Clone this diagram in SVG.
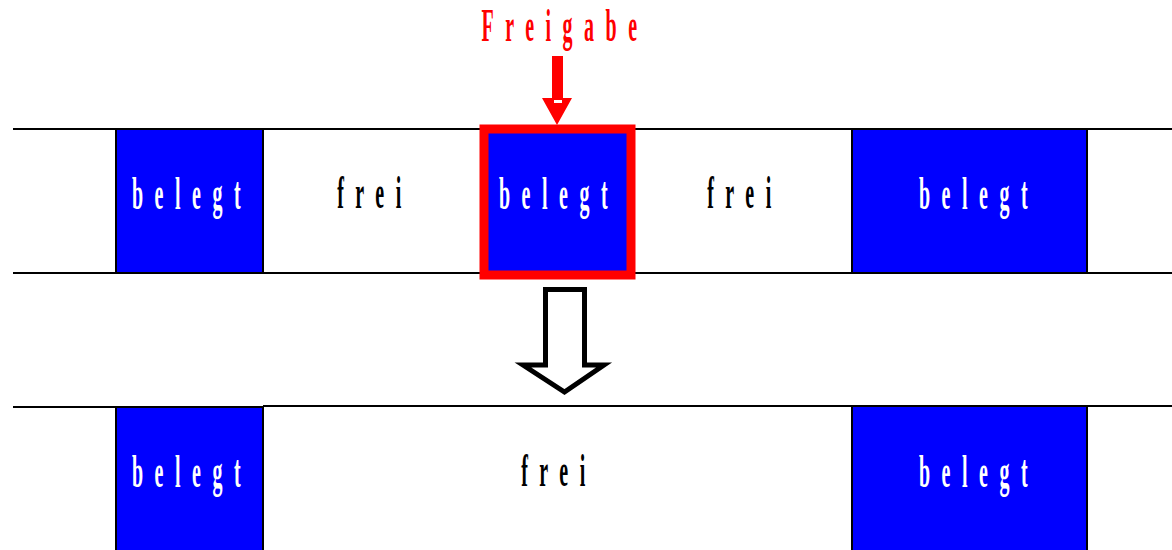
<svg xmlns="http://www.w3.org/2000/svg" width="1172" height="550" viewBox="0 0 1172 550">
  <style>
    .rule { stroke: #000; stroke-width: 2; fill: none; }
    .used { fill: #0000ff; stroke: #000; stroke-width: 2; }
    .lbl { font-family: "Liberation Serif", "Times New Roman", serif; font-size: 20px; font-weight: bold; letter-spacing: 11.5px; text-anchor: middle; }
    .w { fill: #fff; }
    .k { fill: #000; }
    .r { fill: #ff0000; }
  </style>
  <rect width="1172" height="550" fill="#fff"/>

  <!-- upper memory band -->
  <g id="band-top">
    <line class="rule" x1="13" y1="129" x2="1172" y2="129"/>
    <line class="rule" x1="13" y1="273" x2="1172" y2="273"/>
  </g>
  <g id="top-used-1">
    <rect class="used" x="116" y="129" width="147" height="144"/>
    <text class="lbl w" transform="translate(192,209) scale(1,2.35)">belegt</text>
  </g>
  <g id="top-free-1">
    <text class="lbl k" transform="translate(375,208) scale(1,2.35)">frei</text>
  </g>
  <g id="top-used-2">
    <rect x="484" y="129" width="147" height="146" fill="#0000ff" stroke="#ff0000" stroke-width="9"/>
    <text class="lbl w" transform="translate(559,209) scale(1,2.35)">belegt</text>
  </g>
  <g id="top-free-2">
    <text class="lbl k" transform="translate(745,208) scale(1,2.35)">frei</text>
  </g>
  <g id="top-used-3">
    <rect class="used" x="852" y="129" width="235" height="144"/>
    <text class="lbl w" transform="translate(979,209) scale(1,2.35)">belegt</text>
  </g>

  <!-- release marker -->
  <g id="release">
    <text class="lbl r" letter-spacing="12.5" transform="translate(565,41) scale(1,2.3)">Freigabe</text>
  </g>

  <!-- lower memory band -->
  <g id="band-bottom">
    <line class="rule" x1="13" y1="407" x2="116" y2="407"/>
    <line class="rule" x1="263" y1="406" x2="1172" y2="406"/>
  </g>
  <g id="bottom-used-1">
    <rect class="used" x="116" y="407" width="147" height="146"/>
    <text class="lbl w" transform="translate(192,487) scale(1,2.35)">belegt</text>
  </g>
  <g id="bottom-free">
    <text class="lbl k" transform="translate(559,486) scale(1,2.35)">frei</text>
  </g>
  <g id="bottom-used-2">
    <rect class="used" x="852" y="406" width="235" height="147"/>
    <text class="lbl w" transform="translate(979,487) scale(1,2.35)">belegt</text>
  </g>

  <!-- connectors -->
  <g id="connectors">
    <polygon points="552,56 563,56 563,98 572,98 557,125 542,98 552,98" fill="#ff0000"/>
    <rect x="554" y="100" width="8" height="3" fill="#fff"/>
    <polygon points="545.5,289.5 584.5,289.5 584.5,365 604,365 564.5,392 523,365 545.5,365" fill="#fff" stroke="#000" stroke-width="5" stroke-linejoin="miter"/>
  </g>
</svg>
